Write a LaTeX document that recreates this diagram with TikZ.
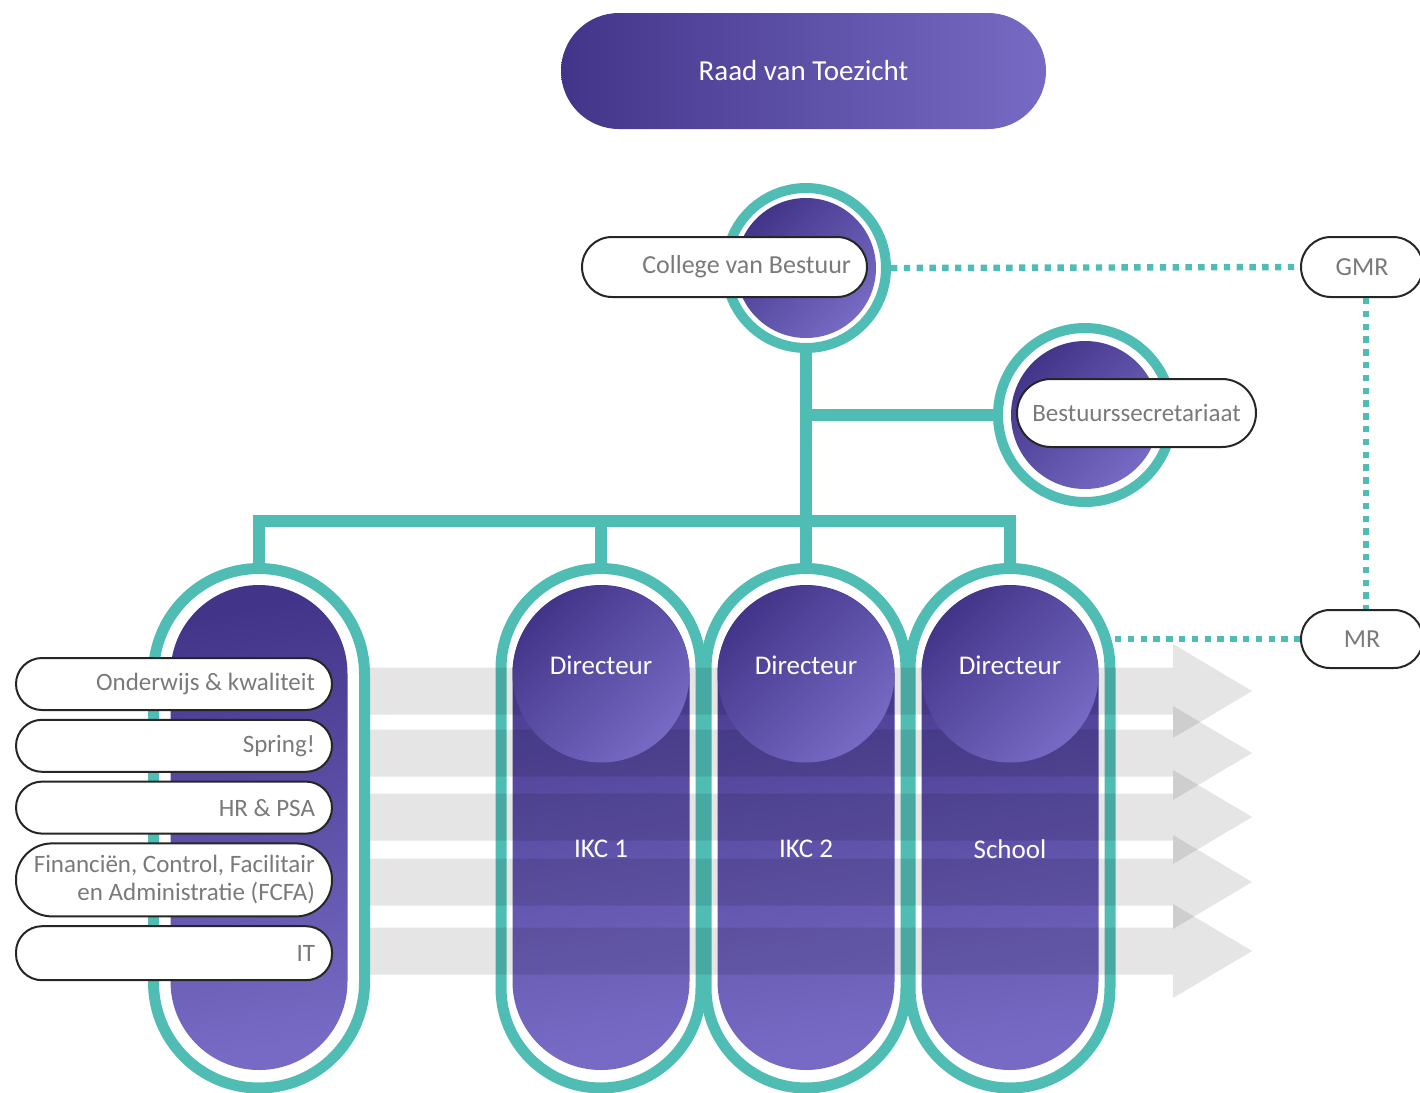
\documentclass[tikz,border=0pt]{standalone}
\usepackage{fontspec}
\setmainfont{Carlito}
\usetikzlibrary{positioning}
\definecolor{teal1}{RGB}{80,189,180}
\definecolor{paars}{RGB}{66,53,137}
\definecolor{lila}{RGB}{119,106,196}
\definecolor{tekstgrijs}{RGB}{122,122,122}
\tikzset{
  tak/.style={draw=teal1, line width=6pt},
  stip/.style={draw=teal1, line width=3.2pt, dash pattern=on 3.2pt off 3.2pt},
  pil/.style={draw=black!85, line width=1pt, fill=white, text=tekstgrijs, inner ysep=0pt},
  lpil/.style={pil, rounded corners=13pt, minimum height=26pt, text width=141pt, inner xsep=8.5pt, align=flush right},
  ring/.style={circle, draw=teal1, line width=5pt, fill=white, inner sep=0pt},
  schijf/.style={circle, inner sep=0pt, top color=paars, bottom color=lila, shading angle=45},
  wit/.style={text=white, font=\fontsize{13.5}{16}\selectfont},
  pijl/.style={fill=black, fill opacity=0.1},
}
\begin{document}
\begin{tikzpicture}[x=0.5pt, y=-0.5pt, line join=miter, font=\fontsize{12.5}{14}\selectfont]
\useasboundingbox (0,0) rectangle (1420,1093);
% Raad van Toezicht
\node[rounded corners=29pt, minimum width=242.5pt, minimum height=58pt, left color=paars, right color=lila, wit, font=\fontsize{14.5}{17}\selectfont] (rvt) at (803.5,71) {Raad van Toezicht};

% zuilen
\foreach \cx/\hw/\r in {259/105.5/52.75, 601/100/50, 806/100/50, 1010/100/50}{
  \draw[draw=teal1, line width=5.5pt, fill=white, rounded corners=\r pt] (\cx-\hw,568.5) rectangle (\cx+\hw,1088);
  \path[top color=paars, bottom color=lila, shading angle=10, rounded corners=44.25pt] (\cx-88.5,585) rectangle (\cx+88.5,1070);
}
\coordinate (z1) at (259,563);
\coordinate (z2) at (601,563);
\coordinate (z3) at (806,563);
\coordinate (z4) at (1010,563);
\coordinate (b1) at (259,521);
\coordinate (b2) at (601,521);
\coordinate (b3) at (806,521);
\coordinate (b4) at (1010,521);
\coordinate (z4r) at (1115,639);

% bestuur
\node[ring, minimum size=80pt] (cvbring) at (806,268) {};
\node[schijf, minimum size=70pt] (cvbschijf) at (cvbring) {};
\node[ring, minimum size=87pt] (bsring) at (1085,415) {};
\node[schijf, minimum size=74pt] (bsschijf) at (bsring) {};

\draw[tak] (z1) -- (b1) -- (b4) -- (z4);
\draw[tak] (b2) -- (z2);
\draw[tak] (cvbring.south) -- (z3);
\draw[tak] (cvbring.south |- bsring) -- (bsring.west);

\node[pil, rounded corners=15pt, minimum height=30pt, text width=126.5pt, inner xsep=8pt, align=flush right, font=\fontsize{13}{15}\selectfont] (cvb) at (724.5,267) {College van Bestuur};
\node[pil, rounded corners=17pt, minimum height=34pt, minimum width=119.5pt] (bs) at (1136.5,413) {Bestuurssecretariaat};
\node[pil, rounded corners=15pt, minimum height=30pt, minimum width=61pt, font=\fontsize{13}{15}\selectfont] (gmr) at (1362,267) {GMR};
\node[pil, rounded corners=14.5pt, minimum height=29pt, minimum width=61pt, font=\fontsize{13}{15}\selectfont] (mr) at (1362,639) {MR};

\draw[stip] (cvbring.east) -- (gmr.west);
\draw[stip] ([xshift=2pt]gmr.south) -- ([xshift=2pt]mr.north);
\draw[stip] (z4r) -- (mr.west);

% pijlen
\foreach \ay in {691,753,817,882,951}
  \fill[pijl] (370,\ay-23.5) -- (1173,\ay-23.5) -- (1173,\ay-47) -- (1252,\ay) -- (1173,\ay+47) -- (1173,\ay+23.5) -- (370,\ay+23.5) -- cycle;

% directeuren
\foreach \cx/\naam [count=\i] in {601/IKC 1, 806/IKC 2, 1010/School}{
  \node[schijf, minimum size=88.5pt] (dirschijf\i) at (\cx,674) {};
  \node[wit] (dir\i) at (\cx,665) {Directeur};
  \node[wit] (eenheid\i) at (\cx,849) {\naam};
}

% staf
\node[lpil] (ok) at (174,684) {Onderwijs \& kwaliteit};
\node[lpil, below=3.9pt of ok] (spring) {Spring!};
\node[lpil, below=3.9pt of spring] (hr) {HR \& PSA};
\node[lpil, below=3.9pt of hr, rounded corners=18pt, minimum height=36.5pt] (fcfa) {Financiën, Control, Facilitair\\en Administratie (FCFA)};
\node[lpil, below=3.9pt of fcfa, minimum height=27pt] (it) {IT};
\end{tikzpicture}
\end{document}
